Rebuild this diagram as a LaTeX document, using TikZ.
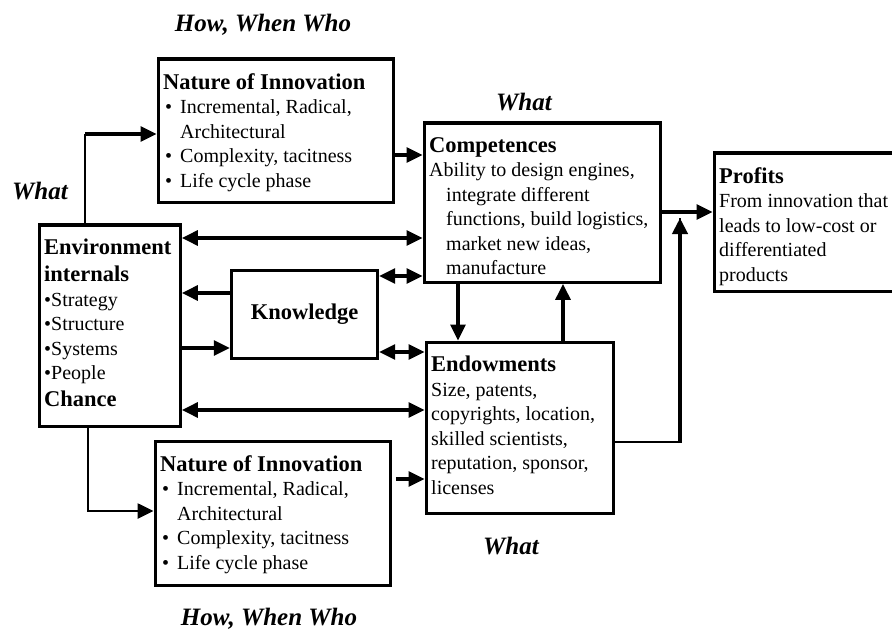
\documentclass[tikz,border=0pt]{standalone}
\usepackage{fontspec}
\setmainfont{Liberation Serif}
\usetikzlibrary{arrows.meta}
\tikzset{
  box/.style={draw, line width=3.4bp, inner xsep=5bp, inner ysep=0pt, anchor=north west,
    font=\fontsize{20bp}{24.5bp}\selectfont},
  lnk/.style={line width=3.2bp, -{Triangle[length=16bp,width=15bp]}},
  dbl/.style={line width=3.2bp, {Triangle[length=16bp,width=15bp]}-{Triangle[length=16bp,width=15bp]}},
  tag/.style={anchor=base, font=\fontsize{25bp}{26bp}\selectfont\bfseries\itshape}
}
\newcommand{\boxtxt}[3]{\parbox[t][#2][t]{#1}{\vspace*{14bp}#3}}
\newcommand{\ttl}[1]{{\fontsize{22.5bp}{27bp}\selectfont\bfseries #1\par}}
\newcommand{\itm}{\par\hangindent=17bp\hangafter=1\makebox[17bp][l]{\hspace*{2bp}\textbullet}}
\begin{document}
\begin{tikzpicture}[x=1bp,y=-1bp]
   \clip (0,0) rectangle (892,629);
   % boxes
   \node[box] (natTop) at (156.5,57.5) {\boxtxt{225bp}{143bp}{\ttl{Nature of Innovation}
      \itm Incremental, Radical,\\ Architectural
      \itm Complexity, tacitness
      \itm Life cycle phase}};
   \node[box] (natBot) at (153.5,439.5) {\boxtxt{225bp}{144bp}{\ttl{Nature of Innovation}
      \itm Incremental, Radical,\\ Architectural
      \itm Complexity, tacitness
      \itm Life cycle phase}};
   \node[box] (env) at (37.5,223.5) {\boxtxt{131bp}{201bp}{\ttl{Environment\\ internals}
      \textbullet Strategy\\ \textbullet Structure\\ \textbullet Systems\\ \textbullet People\par
      \ttl{Chance}}};
   \node[box, anchor=center, minimum width=146bp, minimum height=88bp,
      font=\fontsize{22.5bp}{27bp}\selectfont\bfseries] (know) at (304.5,314.5) {Knowledge};
   \node[box] (comp) at (422.5,121.5) {\boxtxt{226bp}{159bp}{\ttl{Competences}
      \hangindent=17bp\hangafter=1 Ability to design engines,\\ integrate different\\
      functions, build logistics,\\ market new ideas,\\ manufacture}};
   \node[box] (endow) at (424.5,340.5) {\boxtxt{177bp}{171bp}{\ttl{Endowments}
      Size, patents,\\ copyrights, location,\\ skilled scientists,\\ reputation, sponsor,\\ licenses}};
   \node[box] (prof) at (712.5,151.5) {\boxtxt{178bp}{138bp}{\ttl{Profits}
      From innovation that\\ leads to low-cost or\\ differentiated\\ products}};
   % questions
   \foreach \n/\t/\x/\y in
     {hwwTop/{How, When Who}/263/32,
      hwwBot/{How, When Who}/269/625,
      whatL/{What}/40/200,
      whatTop/{What}/524/111,
      whatBot/{What}/511/554}
     \node[tag] (\n) at (\x,\y) {\t};
   % links
   \coordinate (bendT) at (85,134);
   \coordinate (join) at (680,218);
   \draw[line width=2.4bp] (env.north -| bendT) -- (bendT);
   \draw[lnk] (bendT) -- (natTop.west |- bendT);
   \draw[lnk, line width=2.6bp] (env.south -| 88,0) |- (natBot.west |- 0,511);
   \draw[lnk] (natTop.east |- 0,155) -- (comp.west |- 0,155);
   \draw[lnk, shorten <=4bp] (natBot.east |- 0,479) -- (endow.west |- 0,479);
   \draw[lnk] (know.west |- 0,293) -- (env.east |- 0,293);
   \draw[lnk] (env.east |- 0,348) -- (know.west |- 0,348);
   \foreach \a/\b/\y in
     {env.east/comp.west/238,
      know.east/comp.west/276,
      know.east/endow.west/352,
      env.east/endow.west/410}
     \draw[dbl] (\a |- 0,\y) -- (\b |- 0,\y);
   \draw[lnk] (comp.south -| 458,0) -- (endow.north -| 458,0);
   \draw[lnk] (endow.north -| 563,0) -- (comp.south -| 563,0);
   \draw[lnk] (comp.east |- 0,212) -- (prof.west |- 0,212);
   \draw[line width=2.4bp] (endow.east |- 0,442) -| (join);
   \draw[lnk, line width=4bp] (join |- 0,443) -- (join);
\end{tikzpicture}
\end{document}
